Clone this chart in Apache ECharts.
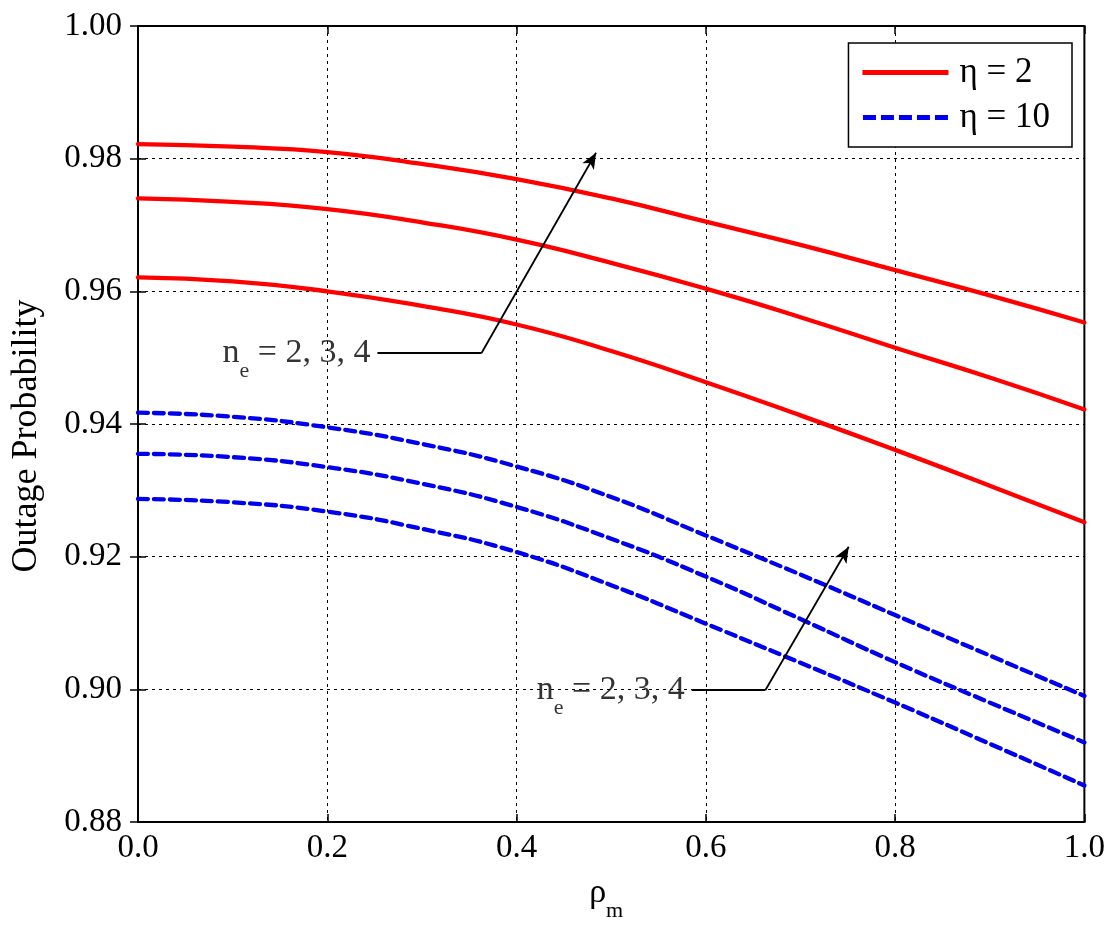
<!DOCTYPE html>
<html>
<head>
<meta charset="utf-8">
<script src="https://cdn.jsdelivr.net/npm/echarts@6/dist/echarts.min.js"></script>
<style>html,body{margin:0;padding:0;background:#fff}#c{width:1108px;height:932px}</style>
</head>
<body>
<div id="c"></div>
<script>
// ---- data ----
const xValues = [0, 0.1, 0.2, 0.3, 0.4, 0.5, 0.6, 0.7, 0.8, 0.9, 1.0];
const eta2_ne4 = [0.9822, 0.9818, 0.9810, 0.9792, 0.9769, 0.9740, 0.9705, 0.9670, 0.9632, 0.9594, 0.9553];
const eta2_ne3 = [0.9740, 0.9735, 0.9724, 0.9704, 0.9678, 0.9643, 0.9604, 0.9561, 0.9515, 0.9470, 0.9422];
const eta2_ne2 = [0.9621, 0.9615, 0.9600, 0.9578, 0.9550, 0.9510, 0.9463, 0.9413, 0.9361, 0.9307, 0.9252];
const eta10_ne4 = [0.9417, 0.9411, 0.9395, 0.9370, 0.9336, 0.9290, 0.9232, 0.9173, 0.9112, 0.9051, 0.8990];
const eta10_ne3 = [0.9355, 0.9350, 0.9335, 0.9310, 0.9275, 0.9227, 0.9170, 0.9106, 0.9041, 0.8980, 0.8920];
const eta10_ne2 = [0.9287, 0.9282, 0.9268, 0.9242, 0.9207, 0.9157, 0.9099, 0.9040, 0.8980, 0.8918, 0.8855];
const xTicks = [0, 0.2, 0.4, 0.6, 0.8, 1.0];
const yTicks = [0.88, 0.90, 0.92, 0.94, 0.96, 0.98, 1.00];
const legendNames = ['\u03b7 = 2', '\u03b7 = 10'];
// annotation polylines in data coordinates: [labelAnchor, elbow, arrowTip]
const annot1 = [[0.253, 0.9507], [0.363, 0.9507], [0.484, 0.9809]];
const annot2 = [[0.585, 0.8999], [0.663, 0.8999], [0.751, 0.9215]];

const FONT = '"Liberation Serif", "DejaVu Serif", serif';
const pair = arr => xValues.map((x, i) => [x, arr[i]]);
const RED = '#ff0000', BLUE = '#0000ee';

function curve(name, arr, color, dashed) {
  return {
    type: 'line', name: name, data: pair(arr), smooth: true, showSymbol: false, symbol: 'none',
    xAxisIndex: 0, yAxisIndex: 0, z: 3,
    lineStyle: { color: color, width: 4.3, type: dashed ? [10, 6] : 'solid', cap: 'round' },
    itemStyle: { color: color }
  };
}
function annotation(pts) {
  return [
    {
      type: 'line', data: [pts[0], pts[1]], symbol: 'none', showSymbol: false, silent: true,
      xAxisIndex: 0, yAxisIndex: 0, z: 4,
      lineStyle: { color: '#000', width: 1.8 },
      markLine: {
        silent: true, symbol: ['none', 'arrow'], symbolSize: [10, 16], animation: false,
        lineStyle: { color: '#000', width: 1.8, type: 'solid' }, label: { show: false },
        data: [[{ coord: pts[1] }, { coord: pts[2] }]]
      }
    },
    {
      type: 'scatter', data: [pts[0]], symbolSize: 0, silent: true, xAxisIndex: 0, yAxisIndex: 0, z: 5,
      label: {
        show: true, position: 'left', distance: 7,
        formatter: '{a|n}{b|e}{a| = 2, 3, 4}',
        rich: {
          a: { fontFamily: FONT, fontSize: 34, color: '#000', lineHeight: 58, verticalAlign: 'middle' },
          b: { fontFamily: FONT, fontSize: 22, color: '#000', lineHeight: 22, verticalAlign: 'bottom' }
        }
      }
    }
  ];
}

const solidIcon = 'path://M0,0H86V5H0Z';
const dashIcon = 'path://M0,0h13v5h-13z M18,0h13v5h-13z M36,0h13v5h-13z M54,0h13v5h-13z M72,0h13v5h-13z';

const chart = echarts.init(document.getElementById('c'), null, { renderer: 'canvas' });
const axisCommon = {
  type: 'value', min: 0, max: 1, interval: 0.2,
  axisLine: { show: true, lineStyle: { color: '#000', width: 2 } },
  axisTick: { show: true, inside: true, length: 8, lineStyle: { color: '#000', width: 1.5 } },
  splitLine: { show: false }
};
chart.setOption({
  backgroundColor: '#fff',
  animation: false,
  grid: { left: 138, right: 22, top: 26, bottom: 110, show: true, borderColor: '#000', borderWidth: 2 },
  legend: {
    data: [{ name: legendNames[0], icon: solidIcon }, { name: legendNames[1], icon: dashIcon }],
    orient: 'vertical', right: 36, top: 43,
    borderColor: '#000', borderWidth: 1.5, padding: [12, 22, 12, 14], itemGap: 10,
    itemWidth: 86, itemHeight: 5, backgroundColor: '#fff',
    textStyle: { fontFamily: FONT, fontSize: 35, color: '#000', padding: [0, 0, 0, 6] }
  },
  xAxis: [
    Object.assign({}, axisCommon, {
      position: 'bottom',
      axisLabel: { fontFamily: FONT, fontSize: 33, color: '#000', margin: 10, formatter: v => xTicks.some(t => Math.abs(t - v) < 1e-9) ? v.toFixed(1) : '' },
      splitLine: { show: true, lineStyle: { color: '#000', width: 1, type: [3, 4] } },
      name: '{a|\u03c1}{b|m}', nameLocation: 'middle', nameGap: 42,
      nameTextStyle: { padding: [0, 10, 0, 0], rich: {
        a: { fontFamily: FONT, fontSize: 34, color: '#000', lineHeight: 58, verticalAlign: 'middle' },
        b: { fontFamily: FONT, fontSize: 22, color: '#000', lineHeight: 22, verticalAlign: 'bottom' }
      } }
    }),
    Object.assign({}, axisCommon, { position: 'top', axisLabel: { show: false } })
  ],
  yAxis: [
    Object.assign({}, axisCommon, {
      min: 0.88, max: 1.0, interval: 0.02, position: 'left',
      axisLabel: { fontFamily: FONT, fontSize: 33, color: '#000', margin: 16, formatter: v => yTicks.some(t => Math.abs(t - v) < 1e-9) ? v.toFixed(2) : '' },
      splitLine: { show: true, lineStyle: { color: '#000', width: 1, type: [3, 4] } },
      name: 'Outage Probability', nameLocation: 'middle', nameGap: 93,
      nameTextStyle: { fontFamily: FONT, fontSize: 36, color: '#000', padding: [0, 24, 0, 0] }
    }),
    Object.assign({}, axisCommon, { min: 0.88, max: 1.0, interval: 0.02, position: 'right', axisLabel: { show: false } })
  ],
  series: [
    curve(legendNames[0], eta2_ne4, RED, false),
    curve(legendNames[0], eta2_ne3, RED, false),
    curve(legendNames[0], eta2_ne2, RED, false),
    curve(legendNames[1], eta10_ne4, BLUE, true),
    curve(legendNames[1], eta10_ne3, BLUE, true),
    curve(legendNames[1], eta10_ne2, BLUE, true)
  ].concat(annotation(annot1), annotation(annot2))
});
</script>
</body>
</html>
